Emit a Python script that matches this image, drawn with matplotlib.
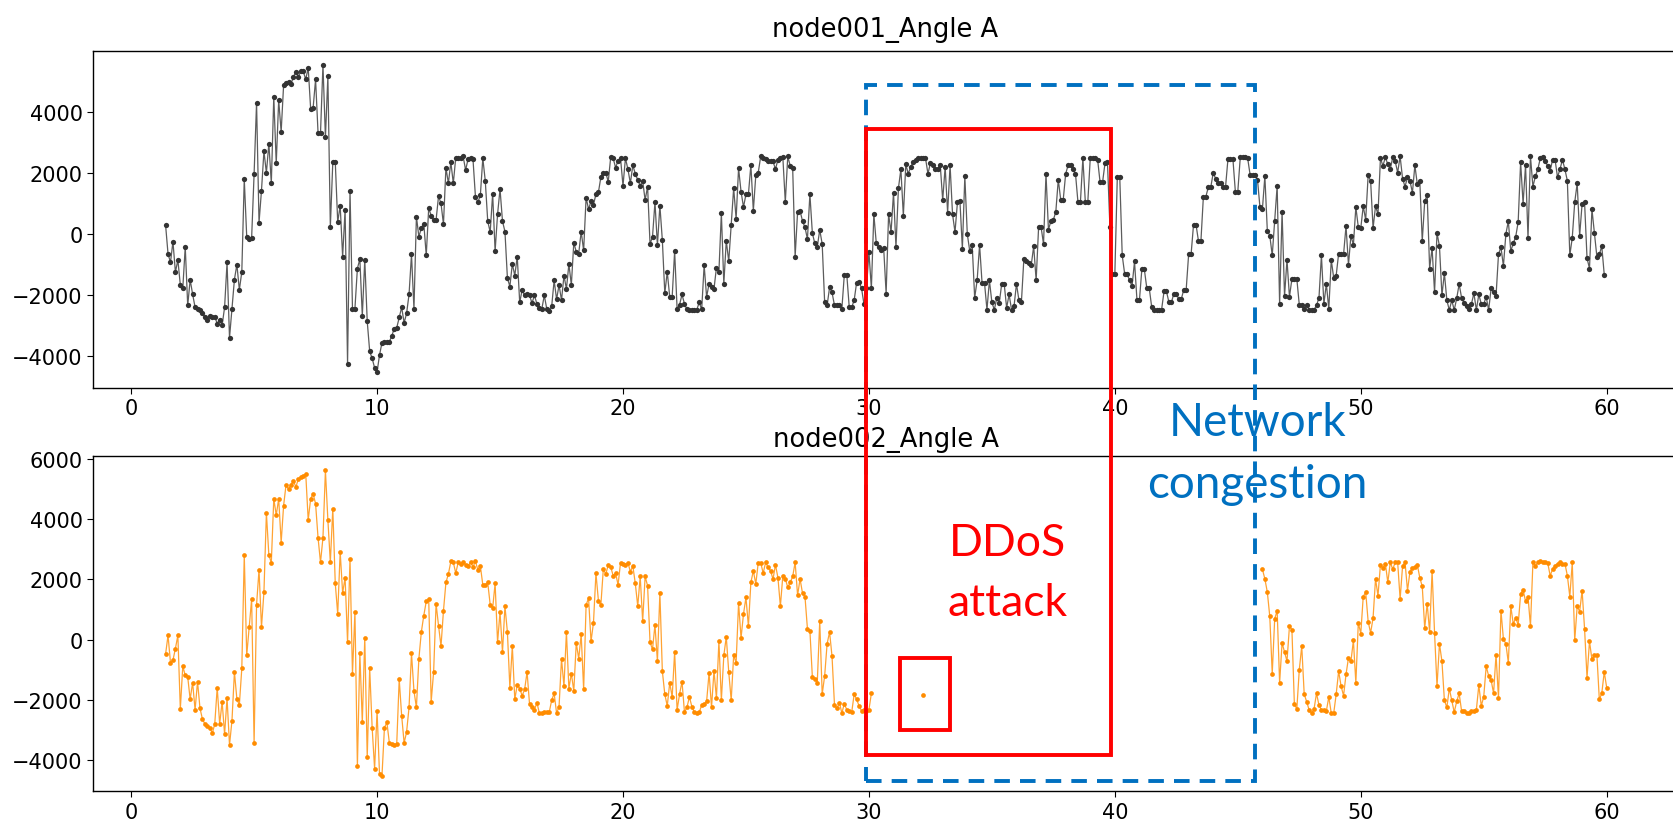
import numpy as np
import matplotlib
matplotlib.use("Agg")
import matplotlib.pyplot as plt
import matplotlib.transforms as mtransforms
from matplotlib.patches import Rectangle

# sampling: one reading every 0.1 s
STEP = 0.1

# node001 angle A, first sample at t = 1.4 s
node1_t0 = 1.4
node1_angle = [
    300, -650, -930, -250, -1250, -850, -1670, -1780, -420, -2340,
    -1500, -1970, -2400, -2450, -2490, -2600, -2720, -2800, -2700, -2710,
    -2710, -2930, -2800, -2990, -2400, -930, -3400, -2460, -1490, -1000,
    -1830, -1240, 1800, -90, -170, -120, 1970, 4300, 370, 1420,
    2710, 2000, 2960, 1660, 4490, 2310, 4380, 3340, 4880, 4940,
    4980, 4900, 5150, 5300, 5150, 5330, 5320, 5060, 5440, 4090,
    4130, 5060, 3310, 3300, 5540, 3160, 5170, 230, 2350, 2370,
    390, 930, -740, 790, -4240, 1420, -2440, -2440, -1130, -820,
    -2680, -840, -2860, -3840, -4070, -4380, -4520, -3960, -3560,
    -3530, -3530, -3530, -3330, -3100, -3070, -2730, -2400, -2910, -2600,
    -1980, -670, -2450, 570, -90, 190, 340, -700, 850, 600,
    460, 460, 1240, 1000, 320, 2170, 1660, 2350, 1660, 2500,
    2480, 2500, 2540, 2090, 2450, 2480, 2450, 1220, 1040, 1270,
    2480, 1740, 420, 60, 1320, -560, 650, 1470, 420, 80,
    -1440, -1720, -980, -1360, -740, -2240, -1830, -2010, -1950, -2010,
    -2260, -2010, -2290, -2420, -2450, -2010, -2450, -2530, -2370, -1520,
    -2140, -1670, -2170, -1360, -1800, -980, -1670, -280, -590, -640,
    80, -540, 1190, 810, 1070, 960, 1300, 1360, 1860, 1980,
    2010, 1710, 2510, 2480, 2170, 2400, 2480,
    1580, 2480, 2120, 1660, 2250, 1970, 1770, 1580, 1740, 1110,
    1550, -330, -90, 1040, -370, 930, -200, -1940, -1240, -2060,
    -2060, -560, -2450, -2320, -1980, -2290, -2470, -2480, -2480, -2480,
    -2480, -2240, -2470, -1020, -2060, -1630, -1730, -1800, -1100, -1240,
    680, -1630, -220, -900, 290, 1500, 500, 2150, 1390, 880,
    1300, 1300, 2260, 760, 1920, 2010, 2540, 2480, 2450, 2400,
    2380, 2380, 2120, 2430, 2480, 2510, 1040, 2540, 2230, 2150,
    -740, 730, 760, 420, 220, -170, 1300, 30, -310, -430,
    140, -330, -2240, -2340, -1750, -1910, -2340, -2340, -2340, -2450,
    -1330, -1330, -2400, -2400, -2170, -1590,
    -1560, -1780, -2300, -1780, -590, -1780, 650, -310, -430, -510,
    -460, -1950, 650, 60, 1350, -430, 1500, 2120, 600, 2280,
    1970, 2200, 2350, 2430, 2480, 2500, 2500, 2490, 1970, 2320,
    2260, 2120, 2120, 2260, 1110, 2200, 700, 2250, 650, 60,
    1040, 1090, -480, 1890, 0, -560, -360, -2090, -1520, -360,
    -1600, -1600, -2480, -1520, -2240, -2480, -2090, -2260, -1630, -1630,
    -2420, -1980, -2480, -2370, -1630, -2170, -2240, -820, -900, -940,
    -1020, -400, -1520, 230, 230, -330, 1970, 140, 420, 460,
    730, 1780, 1110, 1110, 1970, 2250, 2250, 2120, 1970, 1040,
    1040, 2480, 1040, 1040, 2480, 2500, 2480, 2430, 1690, 1690,
    2320,
    2350, 220, -1310, -1310, 1860, 1860, -700, -1310, -1310, -1520,
    -1700, -900, -2170, -2170, -1130, -1160, -1780, -1780, -2400, -2480,
    -2480, -2480, -2480, -1880, -1880, -2240, -2240, -1950, -1950, -2140,
    -2140, -1830, -1830, -670, -670, 310, 310, -230, -230, 1220,
    1220, 1530, 1530, 2000, 1810, 1660, 1660, 1530, 1530, 2460,
    2460, 2460, 1390, 1390, 2510, 2510, 2510, 2480, 1940, 1940,
    1940, 1780, 880, 810, 1890, 110, -50, -700, 420, 1580,
    -2290, 730, -2030, -850, -2060, -1470, -1470, -1470, -2320, -2320,
    -2450, -2320, -2480, -2480, -2480, -2340, -2090, -700, -2290, -1630,
    -2450, -850, -1440, -1360, -640, -670, -670, 260, -1010, -50,
    -360, 880, 220,
    190, 910, 460, 1920, 1740, 190, 910, 650, 2480, 2230,
    2510, 2280, 2120, 2510, 2380, 2010, 2540, 1810, 1550, 1860,
    1740, 1350, 2250, 1620, 1740, -230, 1070, 1270, -1130, -460,
    -1910, 30, -400, -2010, -1280, -2170, -2490, -2170, -2490, -2110,
    -1640, -2090, -2260, -2370, -2450, -2290, -1940, -2490, -1980, -2290,
    -2290, -2060, -2490, -1780, -1910, -2030, -670, -430, -1050, 0,
    420, -560, -310, -90, 390, 2350, 990, 2250, -120, 2540,
    1550, 1890, 2120, 2480, 2510, 2380, 2230, 2070, 2430, 2430,
    1860, 2120, 2430, 2120, 1740, -700, -120, 1040, 1660, -50,
    990, 1040, -790, -1130, 810, 30, -740, -670, -400, -1330,
]

# node002 angle A: readings before the attack, one stray reading, readings after
node2_t0 = 1.4
node2_angle = [
    -490, 140, -770, -690, -300, 140, -2310, -890, -1190, -1240,
    -1990, -1430, -2340, -1400, -2290, -2650, -2810, -2890, -2930, -3120,
    -2810, -1600, -2810, -2070, -3150, -1950, -3510, -2700, -1080, -1980,
    -2180, -960, 2810, -530, 410, 1350, -3440, 1160, 2320, 410,
    1580, 4220, 2810, 2560, 4690, 4140, 4690, 3230, 4460, 5160,
    5000, 5160, 5270, 5080, 5350, 5400, 5460, 5510, 3980, 4690,
    4850, 4520, 3390, 2570, 3390, 5630, 3980, 2570, 4360, 1870,
    850, 2920, 1550, 2060, -90, 2680, -1160, 930, -4220, -460,
    -2760, 60, -3910, -960, -2930, -4300, -2380, -4490, -4530, -2930,
    -2760,
    -3440, -3470, -3510, -3470, -1320, -2530, -3440, -3080, -2260, -460,
    -1710, -2260, -640, 250, 800, 1270, 1350, -2070, -1080, 1190,
    460, -220, 960, 1900, 2180, 2600, 2570, 2210, 2570, 2530,
    2570, 2490, 2450, 2570, 2420, 2600, 2320, 2450, 1820, 1820,
    1900, 1160, 1040, 1870, -90, 910, -420, 1110, 250, -1600,
    -220, -1990, -1510, -1630, -1870, -1660, -1080, -2150, -2260, -2340,
    -2100, -2450, -2450, -2420, -2420, -2420, -2020, -1790, -2450, -2230,
    -640, -1550, 250, -1630, -1130, -1710, -110, -640, 170, -1660,
    1150, 1380, -60, 560, 2210, 1300, 1150, 2340, 2180, 2480,
    2420, 2130, 2210, 1820, 2560, 2530, 2490,
    2560, 2260, 2450, 1870, 1110, 2100, 610, 2100, 1790, -90,
    -330, 490, -720, 1550, -1050, -1820, -2210, -1440, -1910, -410,
    -2340, -1820, -1400, -2420, -2260, -1910, -2230, -2420, -2450, -2420,
    -2180, -2150, -2060, -1110, -2260, -1040, -1950, -60, -2020, -530,
    90, -1080, -2020, -530, -770, 1220, 50, 850, 1400, 440,
    1900, 2290, 1850, 2560, 2560, 2210, 2570, 2400, 2290, 2010,
    2490, 2060, 1110, 2130, 2020, 1740, 1900, 2100, 2570, 1470,
    2020, 1540, 1430, 360, 300, -1240, -1320, -1430, 610, -1820,
    -1210, -140, 250, -560, -2180, -2290, -2100, -2450, -2130, -2340,
    -2380, -2420, -1820, -1990, -2210, -2370, -2340, -2370, -2340, -1790,
]
node2_stray_t = [32.2]
node2_stray = [-1850]
node2_resume_t0 = 46.0
node2_resume = [
    2340, 2020, 1580, 770, -1130, 690, 960, -1440, -110, -410,
    -720, 440, 330, -2150, -2310, -1000, -220, -1820, -2070, -2340,
    -2450, -2310, -1790, -2180, -2340, -2340, -2380, -1910, -2450, -2450,
    -1820, -1050, -1550, -1870, -1160, -610, -720, -30, -1440, 560,
    200, 1430, 1580, 600, 220, 720, 2020, 1460, 2490, 2370,
    2530, 1900, 2570, 2340, 2570, 2570, 1350, 2450, 2570, 1630,
    2260, 2370, 2420, 2490, 2060, 1770, 380, 1190, 250, 2290,
    220, -1550, -140, -720, -2020, -2260, -1630, -2020, -2420, -2060,
    -1790, -2380, -2370, -2460, -2450, -2380, -2380, -2340, -1520, -2210,
    -1900, -890, -1210, -1350, -1790, -500, -1950, 960, 20, -140,
    -770, 1110, 520, 720, 490, 1510, 1660, 1270, 1430, 440,
    2570, 2450, 2570, 2600, 2570, 2570, 2560, 2130, 2340, 2450,
    2530, 2570, 2530, 2530, 2130, 1430, 2570, -30, 1110, 930,
    1630, 360, -1270, -60, -660, -530, -500, -1990, -1790, -1080,
    -1600,
]

# event windows (seconds) and the box around the stray reading
ddos_window = (29.9, 39.85)
congestion_window = (29.9, 45.7)
stray_box_t = (31.25, 33.3)
stray_box_v = (-3000, -620)

RED = "#FF0000"
BLUE = "#0070C0"
GREY = "#333333"
ORANGE = "#FF8C00"


def times(t0, values):
    return t0 + STEP * np.arange(len(values))


def draw_series(ax, t, v, color, ms):
    ax.plot(t, v, color=color, lw=0.9, alpha=0.8)
    ax.plot(t, v, "o", color=color, ms=ms, mew=0)


fig = plt.figure(figsize=(16.73, 8.29), dpi=100)
ax1 = fig.add_axes([0.0556, 0.5308, 0.9474, 0.4065])
ax2 = fig.add_axes([0.0556, 0.0443, 0.9474, 0.4048])

draw_series(ax1, times(node1_t0, node1_angle), node1_angle, GREY, 3.8)
draw_series(ax2, times(node2_t0, node2_angle), node2_angle, ORANGE, 3.4)
draw_series(ax2, node2_stray_t, node2_stray, ORANGE, 3.4)
draw_series(ax2, times(node2_resume_t0, node2_resume), node2_resume, ORANGE, 3.4)

ax1.set_title("node001_Angle A", fontsize=18.5, pad=11)
ax2.set_title("node002_Angle A", fontsize=18.5, pad=7)

for ax in (ax1, ax2):
    ax.set_xlim(-1.55, 62.9)
    ax.set_xticks([0, 10, 20, 30, 40, 50, 60])
    ax.tick_params(labelsize=15, length=4)
    for s in ax.spines.values():
        s.set_linewidth(1.0)
ax1.set_ylim(-5040, 5990)
ax1.set_yticks([-4000, -2000, 0, 2000, 4000])
ax2.set_ylim(-5050, 6120)
ax2.set_yticks([-4000, -2000, 0, 2000, 4000, 6000])

# boxes span both panels: x in data seconds, y in figure fraction
span = mtransforms.blended_transform_factory(ax2.transData, fig.transFigure)
fig.add_artist(Rectangle((congestion_window[0], 0.0563),
                         congestion_window[1] - congestion_window[0], 0.8400,
                         transform=span, fill=False, ec=BLUE, lw=2.8,
                         ls=(0, (4, 2.6)), clip_on=False, zorder=5))
fig.add_artist(Rectangle((ddos_window[0], 0.0884),
                         ddos_window[1] - ddos_window[0], 0.7548,
                         transform=span, fill=False, ec=RED, lw=2.8,
                         clip_on=False, zorder=6))
ax2.add_patch(Rectangle((stray_box_t[0], stray_box_v[0]),
                        stray_box_t[1] - stray_box_t[0],
                        stray_box_v[1] - stray_box_v[0],
                        fill=False, ec=RED, lw=2.8, clip_on=False, zorder=6))

ddos_x = (ddos_window[0] + ddos_window[1]) / 2 + 0.75
fig.text(0, 0.3293, "DDoS", transform=span, color=RED, fontsize=32,
         family="Lato", ha="center", va="baseline", zorder=7).set_x(ddos_x)
fig.text(0, 0.2569, "attack", transform=span, color=RED, fontsize=32,
         family="Lato", ha="center", va="baseline", zorder=7).set_x(ddos_x)
fig.text(0, 0.4740, "Network", transform=span, color=BLUE, fontsize=33,
         family="Lato", ha="center", va="baseline", zorder=7).set_x(45.8)
fig.text(0, 0.3993, "congestion", transform=span, color=BLUE, fontsize=33,
         family="Lato", ha="center", va="baseline", zorder=7).set_x(45.8)

fig.savefig("out.png", dpi=100)
